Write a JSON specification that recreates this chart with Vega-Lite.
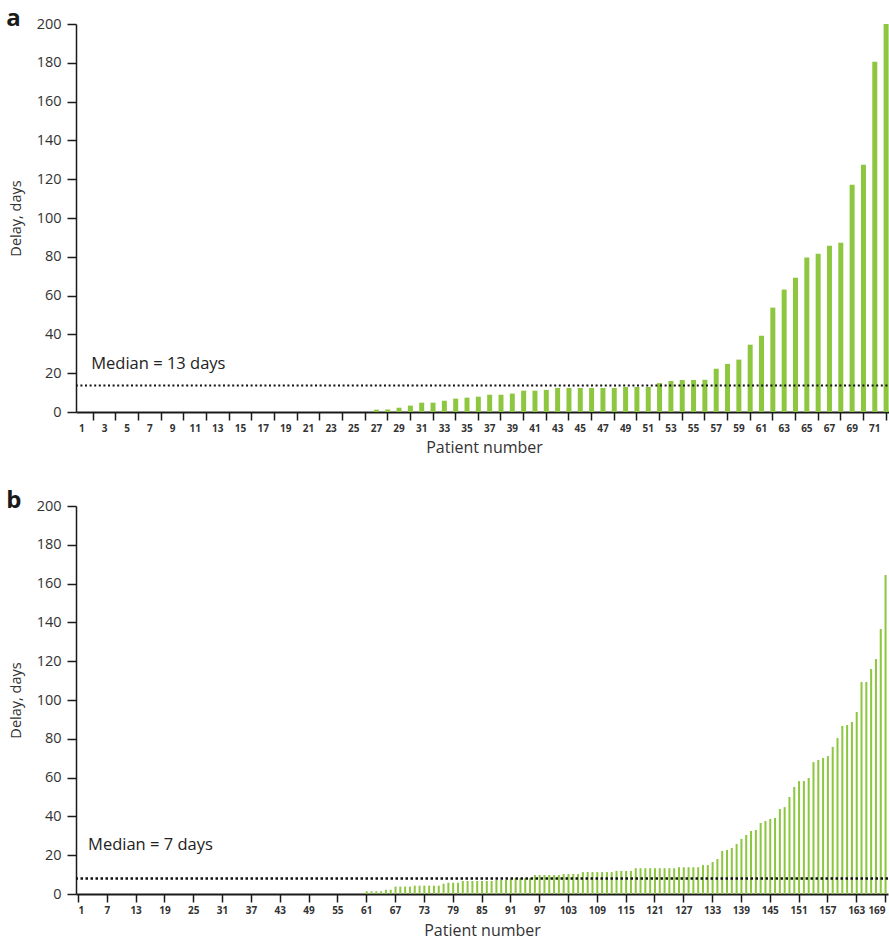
{
  "$schema": "https://vega.github.io/schema/vega-lite/v6.json",
  "padding": {"left": 6, "top": 7, "right": 0, "bottom": 0},
  "spacing": 34,
  "datasets": {
    "a": [
      {"patient":1,"delay":0},{"patient":2,"delay":0},{"patient":3,"delay":0},{"patient":4,"delay":0},{"patient":5,"delay":0},{"patient":6,"delay":0},{"patient":7,"delay":0},{"patient":8,"delay":0},{"patient":9,"delay":0},{"patient":10,"delay":0},
      {"patient":11,"delay":0},{"patient":12,"delay":0},{"patient":13,"delay":0},{"patient":14,"delay":0},{"patient":15,"delay":0},{"patient":16,"delay":0},{"patient":17,"delay":0},{"patient":18,"delay":0},{"patient":19,"delay":0},{"patient":20,"delay":0},
      {"patient":21,"delay":0},{"patient":22,"delay":0},{"patient":23,"delay":0},{"patient":24,"delay":0},{"patient":25,"delay":0},{"patient":26,"delay":0},{"patient":27,"delay":1.2},{"patient":28,"delay":1.3},{"patient":29,"delay":2.2},{"patient":30,"delay":3.3},
      {"patient":31,"delay":4.8},{"patient":32,"delay":4.8},{"patient":33,"delay":5.8},{"patient":34,"delay":6.9},{"patient":35,"delay":7.4},{"patient":36,"delay":7.9},{"patient":37,"delay":8.9},{"patient":38,"delay":8.9},{"patient":39,"delay":9.5},{"patient":40,"delay":11.0},
      {"patient":41,"delay":11.0},{"patient":42,"delay":11.4},{"patient":43,"delay":12.4},{"patient":44,"delay":12.4},{"patient":45,"delay":12.4},{"patient":46,"delay":12.4},{"patient":47,"delay":12.4},{"patient":48,"delay":12.4},{"patient":49,"delay":12.9},{"patient":50,"delay":12.9},
      {"patient":51,"delay":12.9},{"patient":52,"delay":14.9},{"patient":53,"delay":16.0},{"patient":54,"delay":16.5},{"patient":55,"delay":16.5},{"patient":56,"delay":16.6},{"patient":57,"delay":22.3},{"patient":58,"delay":24.8},{"patient":59,"delay":27.0},{"patient":60,"delay":34.7},
      {"patient":61,"delay":39.3},{"patient":62,"delay":53.8},{"patient":63,"delay":63.1},{"patient":64,"delay":69.2},{"patient":65,"delay":79.6},{"patient":66,"delay":81.6},{"patient":67,"delay":85.7},{"patient":68,"delay":87.3},{"patient":69,"delay":117.2},{"patient":70,"delay":127.5},
      {"patient":71,"delay":180.6},{"patient":72,"delay":200}
    ],
    "b": [
      {"patient":1,"delay":0},{"patient":2,"delay":0},{"patient":3,"delay":0},{"patient":4,"delay":0},{"patient":5,"delay":0},{"patient":6,"delay":0},{"patient":7,"delay":0},{"patient":8,"delay":0},{"patient":9,"delay":0},{"patient":10,"delay":0},
      {"patient":11,"delay":0},{"patient":12,"delay":0},{"patient":13,"delay":0},{"patient":14,"delay":0},{"patient":15,"delay":0},{"patient":16,"delay":0},{"patient":17,"delay":0},{"patient":18,"delay":0},{"patient":19,"delay":0},{"patient":20,"delay":0},
      {"patient":21,"delay":0},{"patient":22,"delay":0},{"patient":23,"delay":0},{"patient":24,"delay":0},{"patient":25,"delay":0},{"patient":26,"delay":0},{"patient":27,"delay":0},{"patient":28,"delay":0},{"patient":29,"delay":0},{"patient":30,"delay":0},
      {"patient":31,"delay":0},{"patient":32,"delay":0},{"patient":33,"delay":0},{"patient":34,"delay":0},{"patient":35,"delay":0},{"patient":36,"delay":0},{"patient":37,"delay":0},{"patient":38,"delay":0},{"patient":39,"delay":0},{"patient":40,"delay":0},
      {"patient":41,"delay":0},{"patient":42,"delay":0},{"patient":43,"delay":0},{"patient":44,"delay":0},{"patient":45,"delay":0},{"patient":46,"delay":0},{"patient":47,"delay":0},{"patient":48,"delay":0},{"patient":49,"delay":0},{"patient":50,"delay":0},
      {"patient":51,"delay":0},{"patient":52,"delay":0},{"patient":53,"delay":0},{"patient":54,"delay":0},{"patient":55,"delay":0},{"patient":56,"delay":0},{"patient":57,"delay":0},{"patient":58,"delay":0},{"patient":59,"delay":0},{"patient":60,"delay":0},
      {"patient":61,"delay":1.4},{"patient":62,"delay":1.4},{"patient":63,"delay":1.4},{"patient":64,"delay":1.4},{"patient":65,"delay":2.2},{"patient":66,"delay":2.2},{"patient":67,"delay":3.8},{"patient":68,"delay":3.8},{"patient":69,"delay":3.8},{"patient":70,"delay":3.8},
      {"patient":71,"delay":4.3},{"patient":72,"delay":4.3},{"patient":73,"delay":4.3},{"patient":74,"delay":4.3},{"patient":75,"delay":4.3},{"patient":76,"delay":4.3},{"patient":77,"delay":5.3},{"patient":78,"delay":5.8},{"patient":79,"delay":5.8},{"patient":80,"delay":5.8},
      {"patient":81,"delay":6.7},{"patient":82,"delay":6.7},{"patient":83,"delay":6.7},{"patient":84,"delay":6.7},{"patient":85,"delay":6.7},{"patient":86,"delay":6.7},{"patient":87,"delay":6.7},{"patient":88,"delay":7.2},{"patient":89,"delay":7.2},{"patient":90,"delay":7.2},
      {"patient":91,"delay":7.7},{"patient":92,"delay":8.2},{"patient":93,"delay":8.2},{"patient":94,"delay":8.2},{"patient":95,"delay":8.2},{"patient":96,"delay":9.8},{"patient":97,"delay":9.8},{"patient":98,"delay":9.8},{"patient":99,"delay":9.8},{"patient":100,"delay":9.8},
      {"patient":101,"delay":9.8},{"patient":102,"delay":10.3},{"patient":103,"delay":10.3},{"patient":104,"delay":10.3},{"patient":105,"delay":10.3},{"patient":106,"delay":11.3},{"patient":107,"delay":11.3},{"patient":108,"delay":11.3},{"patient":109,"delay":11.3},{"patient":110,"delay":11.3},
      {"patient":111,"delay":11.3},{"patient":112,"delay":11.3},{"patient":113,"delay":11.9},{"patient":114,"delay":11.9},{"patient":115,"delay":11.9},{"patient":116,"delay":11.9},{"patient":117,"delay":13.3},{"patient":118,"delay":13.3},{"patient":119,"delay":13.3},{"patient":120,"delay":13.3},
      {"patient":121,"delay":13.3},{"patient":122,"delay":13.3},{"patient":123,"delay":13.3},{"patient":124,"delay":13.3},{"patient":125,"delay":13.3},{"patient":126,"delay":13.8},{"patient":127,"delay":13.8},{"patient":128,"delay":13.8},{"patient":129,"delay":13.8},{"patient":130,"delay":13.8},
      {"patient":131,"delay":14.9},{"patient":132,"delay":14.9},{"patient":133,"delay":16.5},{"patient":134,"delay":18.0},{"patient":135,"delay":22.2},{"patient":136,"delay":22.7},{"patient":137,"delay":23.7},{"patient":138,"delay":25.8},{"patient":139,"delay":28.4},{"patient":140,"delay":30.4},
      {"patient":141,"delay":32.5},{"patient":142,"delay":33.0},{"patient":143,"delay":36.6},{"patient":144,"delay":37.6},{"patient":145,"delay":38.7},{"patient":146,"delay":39.2},{"patient":147,"delay":43.8},{"patient":148,"delay":44.8},{"patient":149,"delay":50.0},{"patient":150,"delay":55.2},
      {"patient":151,"delay":58.2},{"patient":152,"delay":58.2},{"patient":153,"delay":59.8},{"patient":154,"delay":68.0},{"patient":155,"delay":69.1},{"patient":156,"delay":70.1},{"patient":157,"delay":71.1},{"patient":158,"delay":75.8},{"patient":159,"delay":80.4},{"patient":160,"delay":86.6},
      {"patient":161,"delay":87.1},{"patient":162,"delay":88.7},{"patient":163,"delay":93.8},{"patient":164,"delay":109.3},{"patient":165,"delay":109.3},{"patient":166,"delay":116.0},{"patient":167,"delay":121.1},{"patient":168,"delay":136.6},{"patient":169,"delay":164.4}
    ]
  },
  "config": {
    "font": "Open Sans",
    "view": {"stroke": null},
    "axis": {"grid": false, "domainColor": "#1a1a1a", "tickColor": "#1a1a1a", "labelColor": "#333333", "titleColor": "#333333", "titleFontWeight": "normal"},
    "axisX": {"domainWidth": 2, "tickSize": 8, "tickWidth": 1.5, "labelFontSize": 10, "labelFontWeight": "bold", "labelPadding": 3, "labelAngle": 0, "titleFontSize": 16, "titlePadding": 6},
    "axisY": {"domainWidth": 1.5, "tickSize": 9, "tickWidth": 1.5, "labelFontSize": 14.5, "labelPadding": 6, "labelOverlap": false, "titleFontSize": 14.5, "titlePadding": 13},
    "title": {"anchor": "start", "frame": "bounds", "fontSize": 24, "fontWeight": "bold", "color": "#1a1a1a", "offset": 0}
  },
  "vconcat": [
    {
      "title": {"text": "a", "dy": 19, "dx": -2},
      "width": 816,
      "height": 388,
      "encoding": {
        "y": {"field": "delay", "type": "quantitative",
              "scale": {"domain": [0, 200], "nice": false},
              "axis": {"title": "Delay, days", "values": [0,20,40,60,80,100,120,140,160,180,200]}}
      },
      "layer": [
        {
          "data": {"name": "a"},
          "mark": {"type": "bar", "color": "#8DC63F", "clip": true},
          "encoding": {
            "x": {"field": "patient", "type": "ordinal",
                  "scale": {"paddingInner": 0.56, "paddingOuter": 0.3},
                  "axis": {"title": "Patient number", "values": [2,4,6,8,10,12,14,16,18,20,22,24,26,28,30,32,34,36,38,40,42,44,46,48,50,52,54,56,58,60,62,64,66,68,70,72],
                           "labelExpr": "datum.value - 1", "labelOffset": -11.3}}
          }
        },
        {
          "data": {"values": [{"delay": 13.6, "label": "Median = 13 days"}]},
          "layer": [
            {"mark": {"type": "rule", "color": "#111111", "strokeWidth": 2, "strokeDash": [2, 2.6]},
             "encoding": {}},
            {"mark": {"type": "text", "align": "left", "baseline": "alphabetic", "fontSize": 16.5, "color": "#222222", "dx": -2, "dy": -17},
             "encoding": {"x": {"datum": 2, "type": "ordinal"}, "text": {"field": "label"}}}
          ]
        }
      ]
    },
    {
      "title": {"text": "b", "dy": 19, "dx": -2},
      "width": 812,
      "height": 388,
      "encoding": {
        "y": {"field": "delay", "type": "quantitative",
              "scale": {"domain": [0, 200], "nice": false},
              "axis": {"title": "Delay, days", "values": [0,20,40,60,80,100,120,140,160,180,200]}}
      },
      "layer": [
        {
          "data": {"name": "b"},
          "mark": {"type": "bar", "color": "#8DC63F", "clip": true},
          "encoding": {
            "x": {"field": "patient", "type": "ordinal",
                  "scale": {"paddingInner": 0.58, "paddingOuter": 0.3},
                  "axis": {"title": "Patient number", "titlePadding": 7, "labelFlush": 6, "values": [1,7,13,19,25,31,37,43,49,55,61,67,73,79,85,91,97,103,109,115,121,127,133,139,145,151,157,163,169]}}
          }
        },
        {
          "data": {"values": [{"delay": 8, "label": "Median = 7 days"}]},
          "layer": [
            {"mark": {"type": "rule", "color": "#111111", "strokeWidth": 2.5, "strokeDash": [2.5, 2.5]},
             "encoding": {}},
            {"mark": {"type": "text", "align": "left", "baseline": "alphabetic", "fontSize": 16.5, "color": "#222222", "dx": 0, "dy": -28},
             "encoding": {"x": {"datum": 3, "type": "ordinal"}, "text": {"field": "label"}}}
          ]
        }
      ]
    }
  ]
}
